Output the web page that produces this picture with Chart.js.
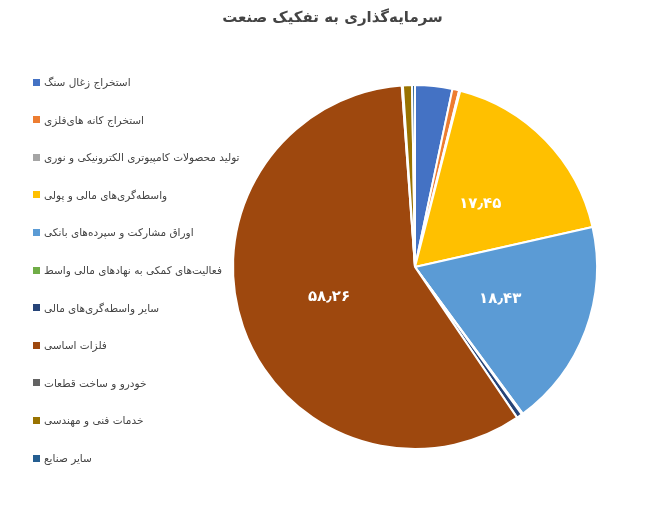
<!DOCTYPE html>
<html><head><meta charset="utf-8">
<script src="https://cdn.jsdelivr.net/npm/chart.js@4"></script>
<style>html,body{margin:0;padding:0;background:#fff}#w{position:relative;width:665px;height:512px}
#t{position:absolute;left:0;width:665px;top:8px;text-align:center;font:bold 15px "DejaVu Sans";color:#444}
#lg{position:absolute;left:33px;top:0;font:10.5px "DejaVu Sans";color:#444}
#lg div{position:absolute;left:0;white-space:nowrap;display:flex;align-items:center;height:14px}
#lg span.b{display:inline-block;width:7px;height:7px;margin-right:4px}</style>
</head><body><div id="w"><canvas id="c"></canvas><div id="t" dir="rtl"></div><div id="lg"></div></div>
<script>
const title='سرمایه‌گذاری به تفکیک صنعت';
const categories=["استخراج زغال سنگ","استخراج کانه های‌فلزی","تولید محصولات کامپیوتری الکترونیکی و نوری","واسطه‌گری‌های مالی و پولی","اوراق مشارکت و سپرده‌های بانکی","فعالیت‌های کمکی به نهادهای مالی واسط","سایر واسطه‌گری‌های مالی","فلزات اساسی","خودرو و ساخت قطعات","خدمات فنی و مهندسی","سایر صنایع"];
const values=[3.3,0.6,0.1,17.45,18.43,0.1,0.5,58.26,0.1,0.8,0.26];
const valueLabels=["","","","۱۷٫۴۵","۱۸٫۴۳","","","۵۸٫۲۶","","",""];
const colors=["#4472C4","#ED7D31","#A5A5A5","#FFC000","#5B9BD5","#70AD47","#264478","#9E480E","#636363","#997300","#255E91"];
document.getElementById('t').textContent=title;
const lg=document.getElementById('lg');
categories.forEach((c,i)=>{const d=document.createElement('div');d.style.top=(75+37.6*i)+'px';d.innerHTML='<span class="b" style="background:'+colors[i]+'"></span><span dir="rtl">'+c+'</span>';lg.appendChild(d);});
const lbl={id:'lbl',afterDatasetsDraw(ch){const ctx=ch.ctx;ch.getDatasetMeta(0).data.forEach((a,i)=>{if(!valueLabels[i])return;const p=a.tooltipPosition();ctx.save();ctx.font='bold 15px "DejaVu Sans"';ctx.fillStyle='#fff';ctx.textAlign='center';ctx.textBaseline='middle';ctx.fillText(valueLabels[i],p.x,p.y);ctx.restore();});}};
new Chart(document.getElementById('c'),{type:'pie',data:{labels:categories,datasets:[{data:values,backgroundColor:colors,borderColor:'#fff',borderWidth:2}]},
options:{responsive:true,maintainAspectRatio:false,animation:false,layout:{padding:{left:232,right:67,top:84,bottom:62}},
plugins:{title:{display:false},legend:{display:false},tooltip:{enabled:false}}},plugins:[lbl]});
</script></body></html>
